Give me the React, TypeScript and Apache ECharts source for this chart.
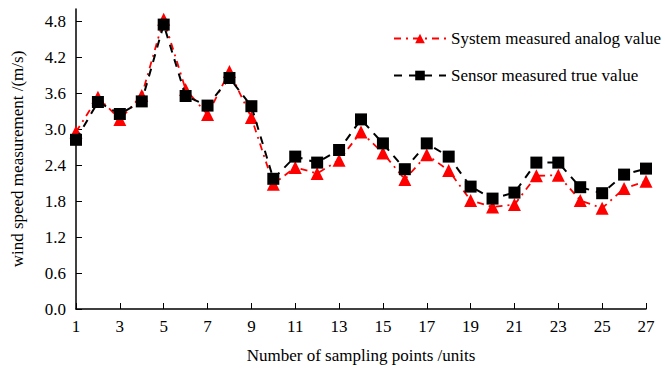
import React, { useEffect, useRef } from "react";
import * as echarts from "echarts";

const categories = ["1","2","3","4","5","6","7","8","9","10","11","12","13","14","15","16","17","18","19","20","21","22","23","24","25","26","27"];
const systemAnalog = [2.95,3.53,3.16,3.56,4.83,3.66,3.24,3.96,3.19,2.08,2.36,2.26,2.48,2.95,2.6,2.16,2.57,2.31,1.81,1.7,1.74,2.22,2.23,1.81,1.68,2.01,2.13];
const sensorTrue = [2.82,3.45,3.25,3.46,4.74,3.55,3.39,3.85,3.38,2.17,2.54,2.44,2.65,3.16,2.76,2.33,2.76,2.54,2.04,1.84,1.94,2.44,2.44,2.03,1.93,2.24,2.34];
const yTicks = [0, 0.6, 1.2, 1.8, 2.4, 3.0, 3.6, 4.2, 4.8];

const FONT = "Liberation Serif";
const FS = 17;

export default function App() {
  const ref = useRef<HTMLDivElement>(null);
  useEffect(() => {
    const chart = echarts.init(ref.current!, null, { renderer: "svg" });
    chart.setOption({
      animation: false,
      backgroundColor: "#fff",
      textStyle: { fontFamily: FONT, color: "#000" },
      legend: {
        orient: "vertical",
        left: 388,
        top: 25,
        itemWidth: 52,
        itemHeight: 12,
        itemGap: 20,
        textStyle: { fontFamily: FONT, fontSize: FS, color: "#000" },
        data: ["System measured analog value", "Sensor measured true value"],
      },
      grid: { left: 76, right: 19, top: 9, bottom: 59, containLabel: false },
      xAxis: {
        type: "category",
        data: categories,
        boundaryGap: false,
        name: "Number of sampling points /units",
        nameLocation: "middle",
        nameGap: 38,
        nameTextStyle: { fontFamily: FONT, fontSize: FS, color: "#000" },
        axisLine: { lineStyle: { color: "#000", width: 1.5 } },
        axisTick: { inside: true, length: 6, interval: 1, lineStyle: { color: "#000" } },
        axisLabel: { interval: 1, margin: 9, fontFamily: FONT, fontSize: FS, color: "#000" },
        splitLine: { show: false },
      },
      yAxis: {
        type: "value",
        min: 0,
        max: 5.0,
        name: "wind speed measurement /(m/s)",
        nameLocation: "middle",
        nameGap: 50,
        nameTextStyle: { fontFamily: FONT, fontSize: FS, color: "#000" },
        axisLine: { show: true, lineStyle: { color: "#000", width: 1.5 } },
        axisTick: { show: true, inside: true, length: 6, customValues: yTicks, lineStyle: { color: "#000" } },
        axisLabel: {
          customValues: yTicks,
          margin: 10,
          fontFamily: FONT,
          fontSize: FS,
          color: "#000",
          formatter: (v: number) => v.toFixed(1),
        },
        splitLine: { show: false },
      },
      series: [
        {
          name: "System measured analog value",
          type: "line",
          data: systemAnalog,
          symbol: "triangle",
          symbolSize: 13,
          itemStyle: { color: "#ff0000" },
          lineStyle: { color: "#ff0000", width: 1.8, type: [7, 5, 2, 5] },
          z: 2,
        },
        {
          name: "Sensor measured true value",
          type: "line",
          data: sensorTrue,
          symbol: "rect",
          symbolSize: 12,
          itemStyle: { color: "#000" },
          lineStyle: { color: "#000", width: 2, type: [8, 7] },
          z: 3,
        },
      ],
    });
    return () => chart.dispose();
  }, []);
  return <div ref={ref} style={{ position: "absolute", left: 0, top: 0, width: 665, height: 369 }} />;
}
